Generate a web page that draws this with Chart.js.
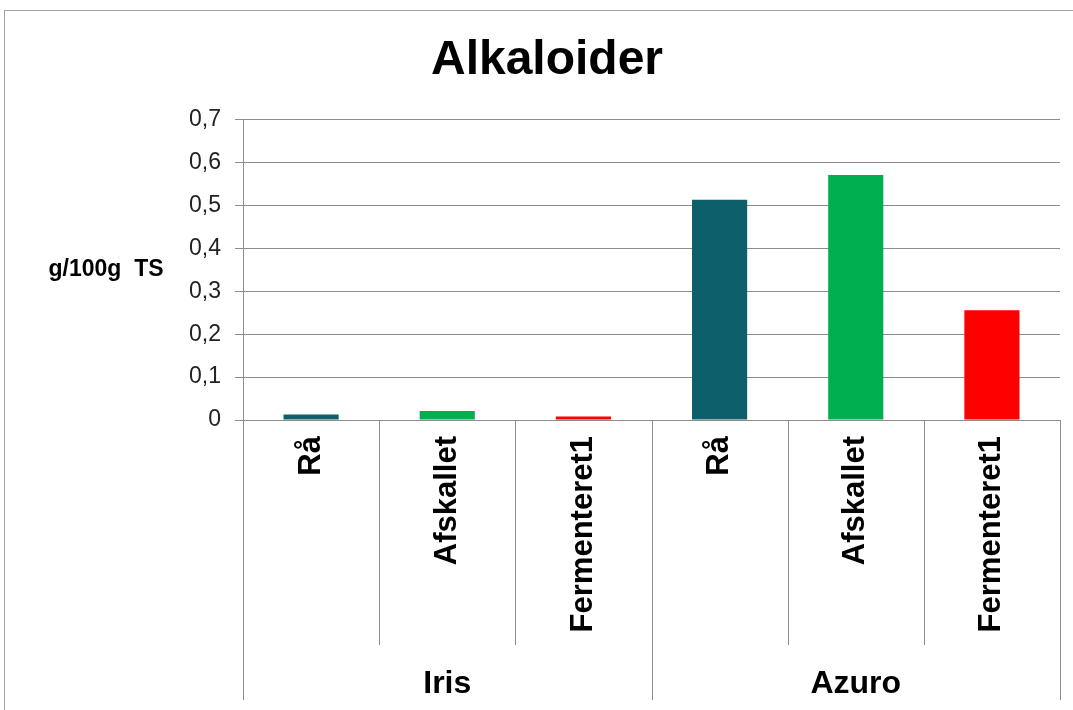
<!DOCTYPE html>
<html>
<head>
<meta charset="utf-8">
<script src="https://cdn.jsdelivr.net/npm/chart.js@4/dist/chart.umd.min.js"></script>
<style>
    html, body {margin: 0; padding: 0; background: #fff; overflow: hidden;}
    #frame {position: absolute; left: 4px; top: 10px; width: 1100px; height: 720px; border: 1px solid #a6a6a6;}
    #wrap {position: absolute; left: 0; top: 0; width: 1073px; height: 710px;}
</style>
</head>
<body>
<div id="frame"></div>
<div id="wrap"><canvas id="chart" width="1073" height="710"></canvas></div>
<script>
const groups = ['Iris', 'Azuro'];
const items = ['Rå', 'Afskallet', 'Fermenteret1', 'Rå', 'Afskallet', 'Fermenteret1'];
const values = [0.013, 0.021, 0.008, 0.513, 0.571, 0.256];
const barColors = ['#0d5f6c', '#00b050', '#ff0000', '#0d5f6c', '#00b050', '#ff0000'];
const yTicks = [0, 0.1, 0.2, 0.3, 0.4, 0.5, 0.6, 0.7];
const yLabel = 'g/100g  TS';

const FONT = "'Liberation Sans', Arial, sans-serif";
const GRID = '#8c8c8c';

// separators between categories and groups below the x axis
const separators = {
    id: 'separators',
    afterDraw(chart) {
        const {ctx, chartArea, scales} = chart;
        const x = scales.x;
        ctx.save();
        ctx.strokeStyle = GRID;
        ctx.lineWidth = 1;
        for (let i = 0; i <= items.length; i++) {
            const px = Math.round(x.getPixelForValue(i - 0.5)) + 0.5;
            const outer = i % 3 === 0;
            ctx.beginPath();
            ctx.moveTo(px, chartArea.bottom);
            ctx.lineTo(px, outer ? 700 : x.bottom);
            ctx.stroke();
        }
        // horizontal y axis title
        ctx.fillStyle = '#000';
        ctx.font = 'bold 23px ' + FONT;
        ctx.textAlign = 'center';
        ctx.textBaseline = 'middle';
        ctx.fillText(yLabel, 106, (chartArea.top + chartArea.bottom) / 2);
        ctx.restore();
    }
};

new Chart(document.getElementById('chart'), {
    type: 'bar',
    data: {
        labels: items,
        datasets: [{
            data: values,
            backgroundColor: barColors,
            borderWidth: 0,
            barPercentage: 0.405,
            categoryPercentage: 1
        }]
    },
    options: {
        responsive: false,
        animation: false,
        layout: {padding: {top: 10, left: 34, right: 13, bottom: 0}},
        plugins: {
            legend: {display: false},
            tooltip: {enabled: false},
            title: {
                display: true,
                text: 'Alkaloider',
                color: '#000',
                font: {family: FONT, size: 48, weight: 'bold'},
                padding: {top: 22, bottom: 30}
            }
        },
        scales: {
            x: {
                grid: {display: false, drawTicks: false},
                border: {display: true, color: GRID},
                ticks: {
                    color: '#000',
                    font: {family: FONT, size: 31, weight: 'bold'},
                    minRotation: 90,
                    maxRotation: 90,
                    padding: 16,
                    autoSkip: false
                },
                afterFit(scale) { scale.height = 225; }
            },
            x2: {
                type: 'category',
                labels: groups,
                position: 'bottom',
                grid: {display: false, drawTicks: false},
                border: {display: false},
                ticks: {
                    color: '#000',
                    font: {family: FONT, size: 32, weight: 'bold'},
                    padding: 20
                },
                afterFit(scale) { scale.height = 65; }
            },
            y: {
                min: 0,
                max: 0.7,
                afterBuildTicks(scale) { scale.ticks = yTicks.map(v => ({value: v})); },
                grid: {color: GRID, tickLength: 8, drawTicks: true},
                border: {display: true, color: GRID},
                ticks: {
                    color: '#222',
                    font: {family: FONT, size: 23},
                    padding: 14,
                    callback: v => String(Number(v.toFixed(1))).replace('.', ',')
                },
                afterFit(scale) { scale.width = 209; }
            }
        }
    },
    plugins: [separators]
});
</script>
</body>
</html>
